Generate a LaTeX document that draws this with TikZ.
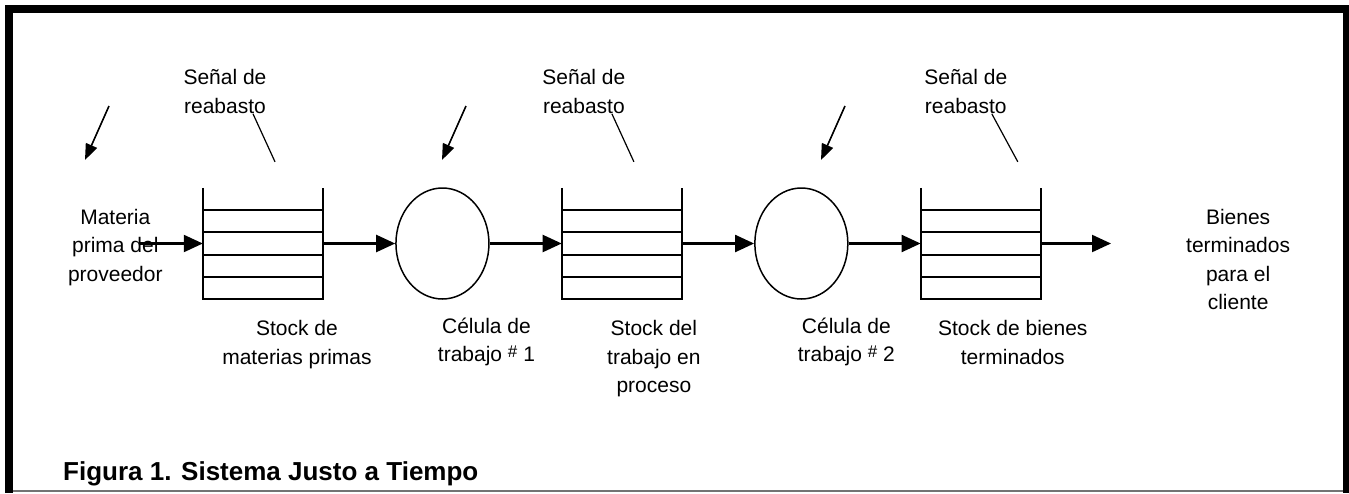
\documentclass[tikz,border=0pt]{standalone}
\usepackage{fontspec}
\setmainfont{Liberation Sans}
\usetikzlibrary{arrows.meta,positioning,shapes.geometric,calc}
\tikzset{
    every node/.append style={align=center},
    stockbox/.style={rectangle,inner sep=0pt,minimum width=120pt,minimum height=111pt},
    cell/.style={ellipse,draw=black,line width=1.5pt,inner sep=0pt,minimum width=93pt,minimum height=111pt},
    boxline/.style={line width=2.2pt},
    arr/.style={-{Triangle[length=19pt,width=17pt]},line width=2.2pt},
    sigarr/.style={-{Triangle[length=16pt,width=12pt]},line width=1.6pt},
    sigline/.style={line width=1.2pt},
    lbl/.style={font=\fontsize{21}{28.5}\selectfont,inner sep=0pt},
    ttl/.style={font=\fontsize{26}{30}\selectfont\bfseries,inner sep=0pt}
}
\newcommand{\numsign}{\raisebox{4pt}{\fontsize{17}{17}\selectfont\#}}
\begin{document}
\begin{tikzpicture}[x=1pt,y=-1pt,node distance=72pt]
    \useasboundingbox (0,0) rectangle (1349,493);
    % frame
    \fill (5,5) rectangle (1349,13);
    \fill (5,5) rectangle (13,493);
    \fill (1343,5) rectangle (1349,493);
    \draw[black!55,line width=1.2pt] (13,491) -- (1343,491);

    % stocks and cells
    \node[stockbox] (s1) at (263,243.5) {};
    \node[cell,right=of s1] (c1) {};
    \node[stockbox,right=of c1] (s2) {};
    \node[cell,right=of s2] (c2) {};
    \node[stockbox,right=of c2] (s3) {};
    \foreach \s in {s1,s2,s3}{
        \draw[boxline] (\s.north west) -- (\s.south west) -- (\s.south east) -- (\s.north east);
        \foreach \k in {1,...,4}
            \draw[boxline] ($(\s.south west)!\k/5!(\s.north west)$) -- ($(\s.south east)!\k/5!(\s.north east)$);
    }

    % labels
    \node[lbl,left=40pt of s1,yshift=-4pt] (mat) {Materia\\prima del\\proveedor};
    \node[lbl,right=145pt of s3,yshift=-16pt] (bien) {Bienes\\terminados\\para el\\cliente};
    \node[lbl,above=74pt of s1,xshift=-38pt] (sig1) {Señal de\\reabasto};
    \node[lbl,above=74pt of s2,xshift=-38pt] (sig2) {Señal de\\reabasto};
    \node[lbl,above=74pt of s3,xshift=-15pt] (sig3) {Señal de\\reabasto};
    \node[lbl,below=21pt of s1,xshift=34pt] (lb1) {Stock de\\materias primas};
    \node[lbl,below=18pt of c1,xshift=44pt] (lb2) {Célula de\\trabajo \numsign{} 1};
    \node[lbl,below=21pt of s2,xshift=32pt] (lb3) {Stock del\\trabajo en\\proceso};
    \node[lbl,below=18pt of c2,xshift=45pt] (lb4) {Célula de\\trabajo \numsign{} 2};
    \node[lbl,below=21pt of s3,xshift=32pt] (lb5) {Stock de bienes\\terminados};

    % flow
    \coordinate[left=63pt of s1.west] (ini);
    \coordinate[right=70pt of s3.east] (fin);
    \draw[arr] (ini) -- (s1);
    \draw[arr] (s1) -- (c1);
    \draw[arr] (c1) -- (s2);
    \draw[arr] (s2) -- (c2);
    \draw[arr] (c2) -- (s3);
    \draw[arr] (s3) -- (fin);

    % replenishment signals
    \foreach \x/\n in {109/1,466/2,845/3}{
        \coordinate (pa\n) at (\x,106);
        \coordinate (pb\n) at (\x-24,160);
        \draw[sigarr] (pa\n) -- (pb\n);
    }
    \draw[sigline] ($(sig1.south)+(28,0)$) -- ($(s1.north)+(12,-26)$);
    \draw[sigline] ($(sig2.south)+(28,0)$) -- ($(s2.north)+(12,-26)$);
    \draw[sigline] ($(sig3.south)+(26,0)$) -- ($(s3.north)+(37,-26)$);

    \node[ttl,anchor=base west] (fig) at (63,480) {Figura 1. Sistema Justo a Tiempo};
\end{tikzpicture}
\end{document}
